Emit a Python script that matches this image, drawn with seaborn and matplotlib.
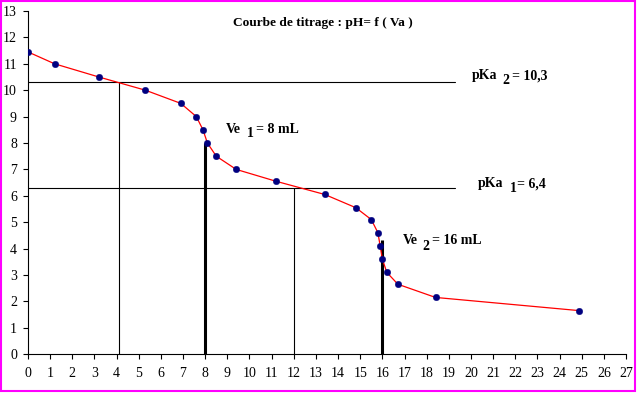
import matplotlib
matplotlib.use("Agg")
import matplotlib.pyplot as plt
import seaborn as sns
import pandas as pd
from matplotlib.patches import Rectangle

# Data
va = [0.0, 1.2, 3.2, 5.3, 6.9, 7.6, 7.9, 8.1, 8.5, 9.4, 11.2, 13.4, 14.8,
      15.5, 15.8, 15.9, 16.0, 16.2, 16.7, 18.4, 24.9]
ph = [11.45, 11.0, 10.5, 10.0, 9.5, 9.0, 8.5, 8.0, 7.5, 7.0, 6.55, 6.05, 5.55,
      5.1, 4.6, 4.1, 3.6, 3.1, 2.65, 2.15, 1.65]

pka_values = [10.3, 6.3]
pka_half_volumes = [4.1, 12.0]
pka_line_end = 19.3
equiv_volumes = [8.0, 16.0]
equiv_ph = [8.0, 4.33]

x_ticks = list(range(0, 28))
y_ticks = list(range(0, 14))

title_text = "Courbe de titrage : pH= f ( Va )"
# labels split into (main, subscript, rest)
label_parts = [
    ("pKa", "2", "= 10,3"),
    ("pKa", "1", "= 6,4"),
    ("Ve", "1", "= 8 mL"),
    ("Ve", "2", "= 16 mL"),
]

sns.set_theme(style="white")
plt.rcParams['font.family'] = ['Liberation Serif', 'DejaVu Serif']

df = pd.DataFrame({"Va": va, "pH": ph})

fig = plt.figure(figsize=(6.38, 3.94), dpi=100)
fig.patch.set_facecolor("white")
ax = fig.add_axes([28 / 638, 1 - 354.2 / 394, (626 - 28) / 638, (354.2 - 11) / 394])

# reference lines
for pk, vh in zip(pka_values, pka_half_volumes):
    ax.plot([0, pka_line_end], [pk, pk], color="black", lw=0.8, zorder=1)
    ax.plot([vh, vh], [0, pk], color="black", lw=0.8, zorder=1)
for ve, pe in zip(equiv_volumes, equiv_ph):
    ax.plot([ve, ve], [0, pe], color="black", lw=2.2, zorder=1, solid_capstyle="butt")

sns.lineplot(data=df, x="Va", y="pH", ax=ax, color="red", lw=0.9, sort=False,
             estimator=None, zorder=2)
sns.scatterplot(data=df, x="Va", y="pH", ax=ax, color="#000080", s=22,
                edgecolor="#000080", linewidth=0.3, zorder=3)

ax.set_xlim(0, 27)
ax.set_ylim(0, 13)
ax.set_xticks(x_ticks)
ax.set_yticks(y_ticks)
ax.set_xticklabels([str(t) for t in x_ticks])
ax.set_yticklabels([str(t) for t in y_ticks])
ax.set_xlabel("")
ax.set_ylabel("")
for s in ["top", "right"]:
    ax.spines[s].set_visible(False)
for s in ["left", "bottom"]:
    ax.spines[s].set_color("black")
    ax.spines[s].set_linewidth(0.8)
ax.tick_params(axis="both", which="major", direction="out", length=3.5, width=0.8,
               color="black", labelsize=10, labelcolor="black", bottom=True, left=True)
ax.tick_params(axis="x", pad=6)
ax.tick_params(axis="y", pad=4.5)
ax.set_facecolor("white")

tkw = dict(fontweight="bold", color="black", va="baseline", ha="left",
           family="Liberation Serif")
ax.text(9.26, 12.44, title_text, fontsize=9.6, **tkw)

# positions: (main x, main baseline, sub x, sub baseline, rest x)
label_pos = [
    (20.03, 10.41, 21.43, 10.22, 21.86),
    (20.30, 6.32, 21.74, 6.16, 22.10),
    (8.94, 8.39, 9.87, 8.22, 10.29),
    (16.92, 4.16, 17.79, 3.95, 18.23),
]
for (main, sub, rest), (mx, my, sx, sy, rx) in zip(label_parts, label_pos):
    ax.text(mx, my, main, fontsize=10, **tkw)
    ax.text(sx, sy, sub, fontsize=10, **tkw)
    ax.text(rx, my, rest, fontsize=10, **tkw)

# magenta frame around the figure
fig.patches.append(Rectangle((1 / 638, 3 / 394), 634 / 638, 390 / 394,
                             transform=fig.transFigure, fill=False,
                             edgecolor="#ff00ff", lw=1.5, zorder=10))

fig.savefig("out.png", dpi=100, facecolor="white")
